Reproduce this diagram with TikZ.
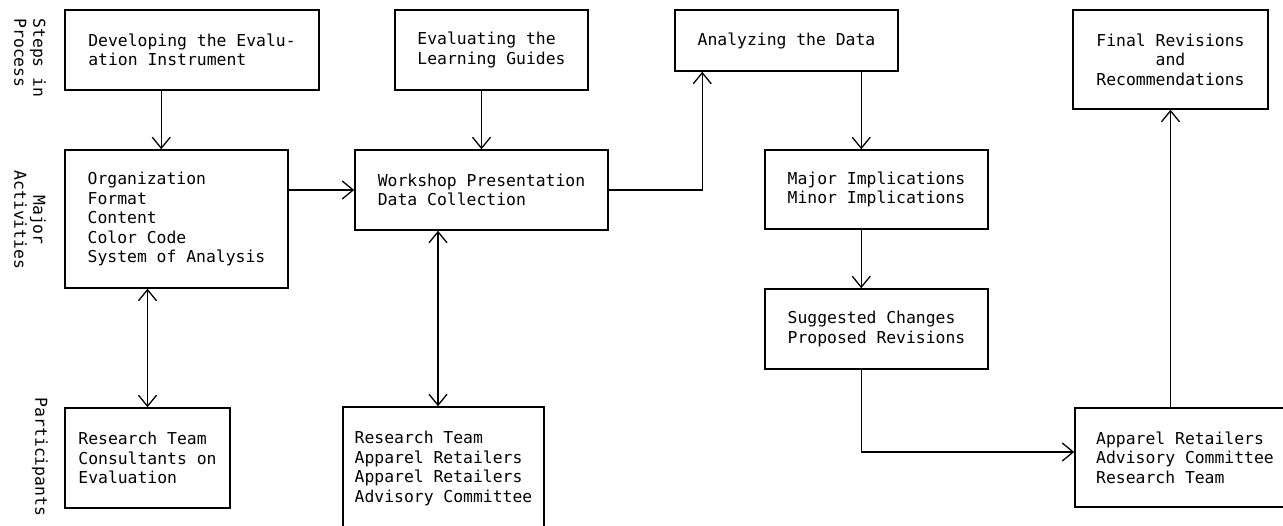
\documentclass[tikz,border=0pt]{standalone}
\usepackage{fontspec}
\setmonofont{DejaVu Sans Mono}
\usetikzlibrary{arrows.meta}
\tikzset{
  box/.style={draw, line width=1.5pt, rectangle, inner sep=0pt, align=left,
    font=\ttfamily\fontsize{16.4}{19.5}\selectfont},
  lbl/.style={font=\ttfamily\fontsize{16.4}{19}\selectfont, rotate=-90, inner sep=0pt},
  arr/.style={line width=1.3pt, -{Straight Barb[length=11pt,width=18pt,line width=1.3pt]}},
  darr/.style={line width=1.3pt, {Straight Barb[length=11pt,width=18pt,line width=1.3pt]}-{Straight Barb[length=11pt,width=18pt,line width=1.3pt]}}
}
\begin{document}
\begin{tikzpicture}[x=1pt,y=-1pt]
\useasboundingbox[fill=white] (0,0) rectangle (1283,526);
\clip (0,0) rectangle (1283,526);
% side labels
\node[lbl, align=left] (l1) at (30,58) {Steps in\\Process};
\node[lbl, align=center] (l2) at (30,220) {Major\\Activities};
\node[lbl] (l3) at (40,457) {Participants};
% boxes
\node[box, minimum width=254pt, minimum height=80pt] (b1) at (192,50) {Developing the Evalu-\\ation Instrument};
\node[box, minimum width=223pt, minimum height=138pt] (b2) at (176.5,219) {Organization\\Format\\Content\\Color Code\\System of Analysis};
\node[box, minimum width=193pt, minimum height=80pt] (b3) at (491.5,50) {Evaluating the\\Learning Guides};
\node[box, minimum width=253pt, minimum height=80pt] (b4) at (481.5,190) {Workshop Presentation\\Data Collection};
\node[box, minimum width=223pt, minimum height=61pt] (b5) at (786.5,40.5) {Analyzing the Data};
\node[box, minimum width=223pt, minimum height=79pt] (b6) at (876.5,189.5) {Major Implications\\Minor Implications};
\node[box, minimum width=223pt, minimum height=80pt] (b7) at (876.5,329) {Suggested Changes\\Proposed Revisions};
\node[box, align=center, minimum width=195pt, minimum height=99pt] (b8) at (1170.5,59.5) {Final Revisions\\and\\Recommendations};
\node[box, minimum width=220pt, minimum height=99pt] (b9) at (1185,457.5) {Apparel Retailers\\Advisory Committee\\Research Team};
\node[box, minimum width=165pt, minimum height=100pt] (b10) at (147.5,458) {Research Team\\Consultants on\\Evaluation};
\node[box, minimum width=201pt, minimum height=123pt] (b11) at (443.5,468.5) {Research Team\\Apparel Retailers\\Apparel Retailers\\Advisory Committee};
% connectors
\draw[arr] ([xshift=97pt]b1.south west) -- ([xshift=97pt]b2.north west);
\draw[arr] (b4.west -| b2.east) -- (b4.west);
\draw[arr] (b3.south -| b4.north) -- (b4.north);
\draw[arr] (b4.east) -| ([xshift=28pt]b5.south west);
\draw[arr] ([xshift=97pt]b6.north west |- b5.south) -- ([xshift=97pt]b6.north west);
\draw[arr] ([xshift=97pt]b6.south west) -- ([xshift=97pt]b7.north west);
\draw[arr] ([xshift=97pt]b7.south west) |- ([yshift=5.5pt]b9.west);
\draw[arr] (b9.north -| b8.south) -- (b8.south);
\draw[darr] (b2.south -| b10.north) -- (b10.north);
\draw[darr] ([xshift=-5.5pt]b11.north |- b4.south) -- ([xshift=-5.5pt]b11.north);
\end{tikzpicture}
\end{document}
